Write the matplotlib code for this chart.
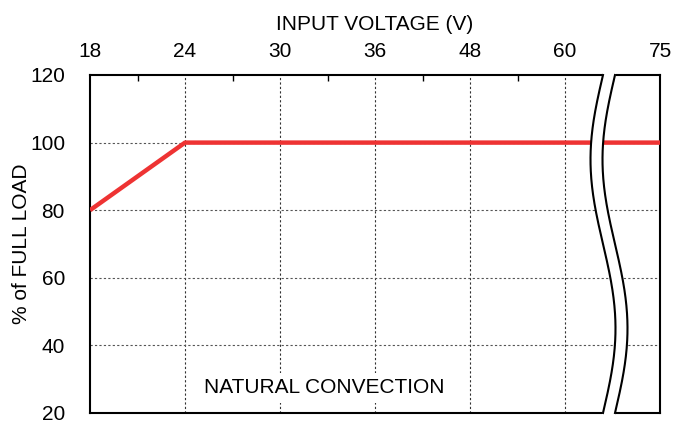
import numpy as np
import matplotlib
matplotlib.use("Agg")
import matplotlib.pyplot as plt

plt.rcParams['font.family'] = ['Liberation Sans', 'DejaVu Sans']

voltage_labels = ["18", "24", "30", "36", "48", "60", "75"]
load_x = [0, 1, 6]          # positions on categorical voltage axis (18, 24, 75)
load_y = [80, 100, 100]
y_ticks = [20, 40, 60, 80, 100, 120]

FS = 15
fig = plt.figure(figsize=(6.73, 4.23), dpi=100)
ax = fig.add_axes([90/673, 1-413/423, 570/673, 338/423])
ax.set_xlim(0, 6)
ax.set_ylim(20, 120)

xpos = np.arange(len(voltage_labels))
ax.xaxis.tick_top()
ax.set_xticks(xpos)
ax.set_xticklabels(voltage_labels, fontsize=FS)
ax.set_xticks(np.arange(0.5, 6, 1.0), minor=True)
ax.tick_params(axis='x', which='major', length=0, pad=10)
ax.tick_params(axis='x', which='minor', direction='in', length=4, width=1, top=True, bottom=False)
ax.set_yticks(y_ticks)
ax.set_yticklabels([str(v) for v in y_ticks], fontsize=FS)
ax.tick_params(axis='y', length=0, pad=18)
ax.xaxis.set_label_position('top')
ax.set_xlabel("INPUT VOLTAGE (V)", fontsize=FS, labelpad=9)
ax.set_ylabel("% of FULL LOAD", fontsize=FS, labelpad=-1)

for s in ax.spines.values():
    s.set_linewidth(1.5)

# grid
for x in xpos[1:-1]:
    ax.axvline(x, color='#333333', lw=0.8, ls=(0, (2, 2)), zorder=1)
for y in y_ticks[1:-1]:
    ax.axhline(y, color='#555555', lw=0.8, ls=(0, (2, 2)), zorder=1)

ax.plot(load_x, load_y, color='#EE3333', lw=3.2, solid_capstyle='butt', zorder=3)

ax.text(2.47, 27.4, "NATURAL CONVECTION", fontsize=FS, ha='center', va='center',
        zorder=4, bbox=dict(facecolor='white', edgecolor='none', pad=4))

# axis break
yy = np.linspace(20, 120, 300)
phase = 2*np.pi*(120 - yy)/100
c = (603-90)/95
amp = 12.5/95
gap = 12/95
xl = c - amp*np.sin(phase)
xr = xl + gap
ax.fill_betweenx(yy, xl, xr, color='white', zorder=5, clip_on=False, lw=0)
ax.fill_betweenx([119.0, 121.0], [c-0.01]*2, [c+gap+0.01]*2, color='white', zorder=5, clip_on=False, lw=0)
ax.fill_betweenx([19.0, 21.0], [c-0.01]*2, [c+gap+0.01]*2, color='white', zorder=5, clip_on=False, lw=0)
ax.plot(xl, yy, color='black', lw=1.5, zorder=6, clip_on=False)
ax.plot(xr, yy, color='black', lw=1.5, zorder=6, clip_on=False)

fig.savefig("out.png", dpi=100)
